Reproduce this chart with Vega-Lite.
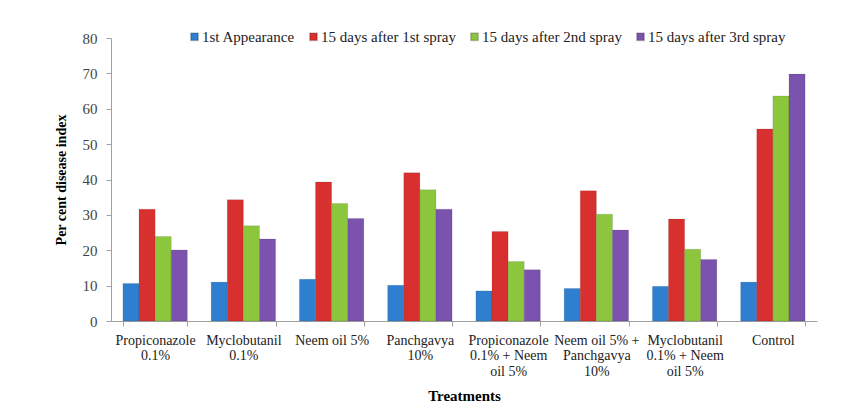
{
  "$schema": "https://vega.github.io/schema/vega-lite/v6.json",
  "autosize": {"type": "none"},
  "width": 706,
  "height": 283,
  "padding": {"left": 111, "top": 38, "right": 37, "bottom": 94},
  "background": "white",
  "config": {
    "view": {"stroke": null},
    "font": "Liberation Serif",
    "axis": {"labelFont": "Liberation Serif", "titleFont": "Liberation Serif", "labelColor": "#333333", "titleColor": "#000000", "domainColor": "#a0a0a0", "tickColor": "#a0a0a0", "grid": false}
  },
  "data": {
    "values": [
      {"treatment": "Propiconazole\n0.1%", "stage": "1st Appearance", "value": 10.6},
      {"treatment": "Propiconazole\n0.1%", "stage": "15 days after 1st spray", "value": 31.6},
      {"treatment": "Propiconazole\n0.1%", "stage": "15 days after 2nd spray", "value": 23.9},
      {"treatment": "Propiconazole\n0.1%", "stage": "15 days after 3rd spray", "value": 20.1},
      {"treatment": "Myclobutanil\n0.1%", "stage": "1st Appearance", "value": 11.0},
      {"treatment": "Myclobutanil\n0.1%", "stage": "15 days after 1st spray", "value": 34.3},
      {"treatment": "Myclobutanil\n0.1%", "stage": "15 days after 2nd spray", "value": 26.9},
      {"treatment": "Myclobutanil\n0.1%", "stage": "15 days after 3rd spray", "value": 23.2},
      {"treatment": "Neem oil 5%", "stage": "1st Appearance", "value": 11.8},
      {"treatment": "Neem oil 5%", "stage": "15 days after 1st spray", "value": 39.3},
      {"treatment": "Neem oil 5%", "stage": "15 days after 2nd spray", "value": 33.2},
      {"treatment": "Neem oil 5%", "stage": "15 days after 3rd spray", "value": 29.0},
      {"treatment": "Panchgavya\n10%", "stage": "1st Appearance", "value": 10.1},
      {"treatment": "Panchgavya\n10%", "stage": "15 days after 1st spray", "value": 41.9},
      {"treatment": "Panchgavya\n10%", "stage": "15 days after 2nd spray", "value": 37.1},
      {"treatment": "Panchgavya\n10%", "stage": "15 days after 3rd spray", "value": 31.6},
      {"treatment": "Propiconazole\n0.1% + Neem\noil 5%", "stage": "1st Appearance", "value": 8.5},
      {"treatment": "Propiconazole\n0.1% + Neem\noil 5%", "stage": "15 days after 1st spray", "value": 25.3},
      {"treatment": "Propiconazole\n0.1% + Neem\noil 5%", "stage": "15 days after 2nd spray", "value": 16.8},
      {"treatment": "Propiconazole\n0.1% + Neem\noil 5%", "stage": "15 days after 3rd spray", "value": 14.5},
      {"treatment": "Neem oil 5% +\nPanchgavya\n10%", "stage": "1st Appearance", "value": 9.2},
      {"treatment": "Neem oil 5% +\nPanchgavya\n10%", "stage": "15 days after 1st spray", "value": 36.8},
      {"treatment": "Neem oil 5% +\nPanchgavya\n10%", "stage": "15 days after 2nd spray", "value": 30.2},
      {"treatment": "Neem oil 5% +\nPanchgavya\n10%", "stage": "15 days after 3rd spray", "value": 25.7},
      {"treatment": "Myclobutanil\n0.1% + Neem\noil 5%", "stage": "1st Appearance", "value": 9.8},
      {"treatment": "Myclobutanil\n0.1% + Neem\noil 5%", "stage": "15 days after 1st spray", "value": 28.8},
      {"treatment": "Myclobutanil\n0.1% + Neem\noil 5%", "stage": "15 days after 2nd spray", "value": 20.3},
      {"treatment": "Myclobutanil\n0.1% + Neem\noil 5%", "stage": "15 days after 3rd spray", "value": 17.4},
      {"treatment": "Control", "stage": "1st Appearance", "value": 11.0},
      {"treatment": "Control", "stage": "15 days after 1st spray", "value": 54.3},
      {"treatment": "Control", "stage": "15 days after 2nd spray", "value": 63.6},
      {"treatment": "Control", "stage": "15 days after 3rd spray", "value": 69.8}
    ]
  },
  "mark": {"type": "bar", "stroke": "#00000033", "strokeWidth": 0.5},
  "encoding": {
    "x": {
      "field": "treatment", "type": "nominal", "sort": null,
      "scale": {"paddingInner": 0.27, "paddingOuter": 0.135},
      "axis": {
        "title": "Treatments", "titleFontSize": 15, "titleFontWeight": "bold", "titlePadding": 10,
        "labelAngle": 0, "labelFontSize": 14, "labelPadding": 7, "labelExpr": "split(datum.label, '\\n')",
        "labelLineHeight": 15.5, "tickBand": "extent", "tickSize": 5, "labelLimit": 200, "labelColor": "#222222"
      }
    },
    "xOffset": {"field": "stage", "type": "nominal", "sort": ["1st Appearance", "15 days after 1st spray", "15 days after 2nd spray", "15 days after 3rd spray"]},
    "y": {
      "field": "value", "type": "quantitative",
      "scale": {"domain": [0, 80]},
      "axis": {"title": "Per cent disease index", "titleFontSize": 14, "titleFontWeight": "bold", "titlePadding": 14, "labelFontSize": 15, "values": [0, 10, 20, 30, 40, 50, 60, 70, 80], "labelOverlap": false, "tickSize": 5, "labelPadding": 9, "labelColor": "#444444"}
    },
    "color": {
      "field": "stage", "type": "nominal",
      "sort": ["1st Appearance", "15 days after 1st spray", "15 days after 2nd spray", "15 days after 3rd spray"],
      "scale": {"domain": ["1st Appearance", "15 days after 1st spray", "15 days after 2nd spray", "15 days after 3rd spray"], "range": ["#2f7fd0", "#d8302e", "#8cc63c", "#7b52ae"]},
      "legend": {"title": null, "orient": "none", "legendX": 76, "legendY": -9, "direction": "horizontal", "symbolType": "square", "symbolSize": 55, "labelFontSize": 15, "labelFont": "Liberation Serif", "labelColor": "#222222", "columnPadding": 11, "labelOffset": 0}
    }
  }
}
